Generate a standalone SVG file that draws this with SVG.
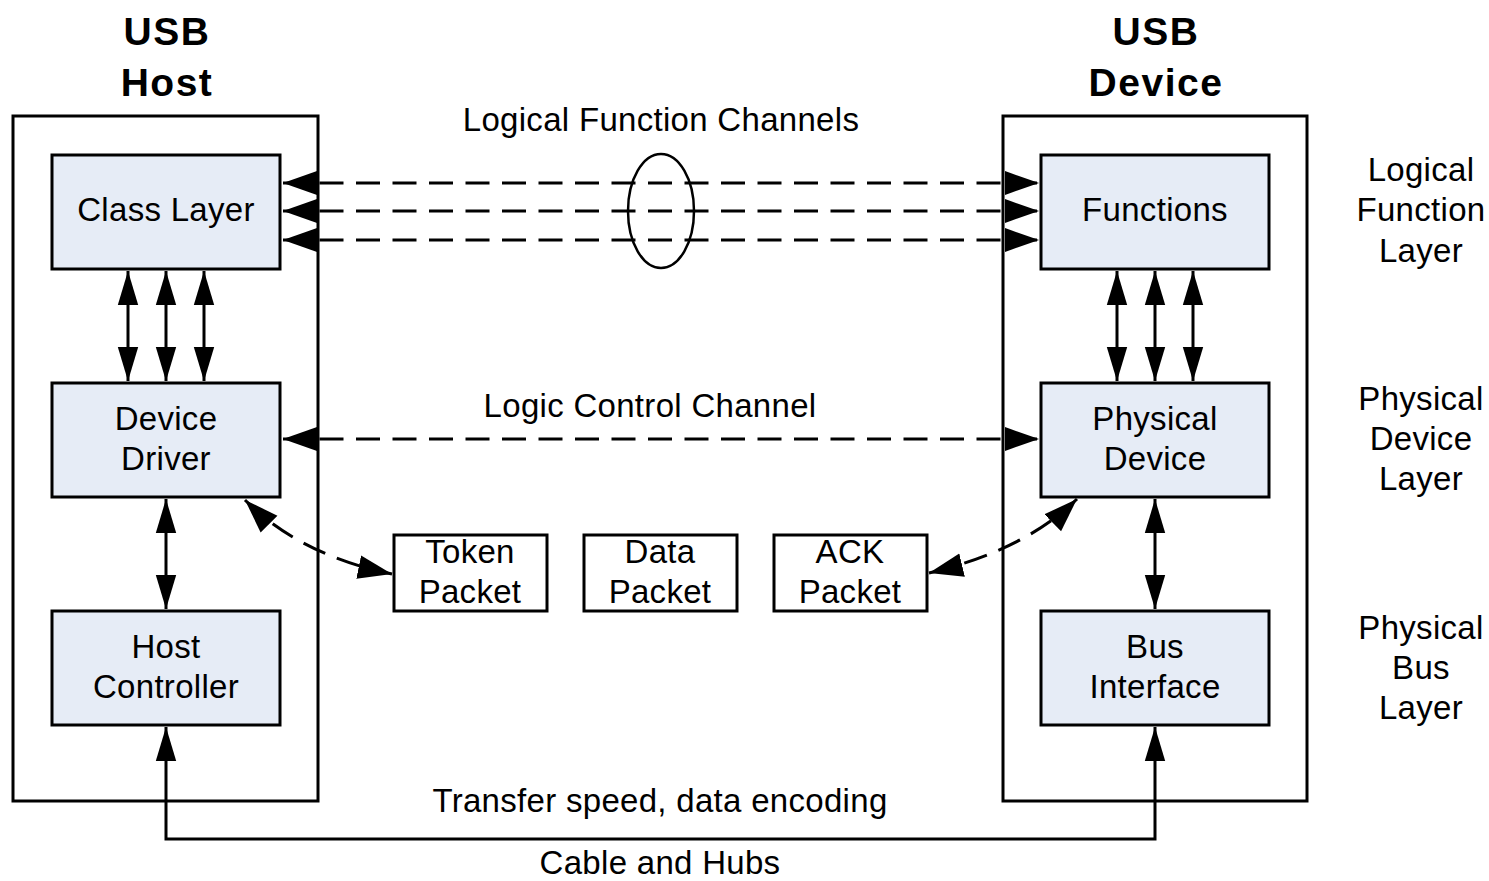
<svg xmlns="http://www.w3.org/2000/svg" width="1489" height="881" viewBox="0 0 1489 881">
<defs>
<marker id="ahb" viewBox="0 0 10 10" refX="10" refY="5" markerWidth="34" markerHeight="34" markerUnits="userSpaceOnUse" orient="auto-start-reverse">
<path d="M0,1.5 L10,5 L0,8.5 z" fill="#000"/>
</marker>
<marker id="ahv" viewBox="0 0 10 10" refX="10" refY="5" markerWidth="34" markerHeight="34" markerUnits="userSpaceOnUse" orient="auto-start-reverse">
<path d="M0,2 L10,5 L0,8 z" fill="#000"/>
</marker>
</defs>
<style>
.outer{fill:none;stroke:#000;stroke-width:3}
.box{fill:#e6ecf6;stroke:#000;stroke-width:3}
.pkt{fill:#fff;stroke:#000;stroke-width:3}
.t{font-family:"Liberation Sans",Arial,sans-serif;font-size:33px;letter-spacing:0.3px;fill:#000;text-anchor:middle}
.h{font-family:"Liberation Sans",Arial,sans-serif;font-size:39px;letter-spacing:1.5px;font-weight:bold;fill:#000;text-anchor:middle}
.ln{fill:none;stroke:#000;stroke-width:3}
.ds{fill:none;stroke:#000;stroke-width:3;stroke-dasharray:24 12.5}
</style>
<g id="host-title"><text class="h" x="167" y="45">USB</text><text class="h" x="167" y="96">Host</text></g>
<g id="device-title"><text class="h" x="1156" y="45">USB</text><text class="h" x="1156" y="96">Device</text></g>
<g id="host"><rect class="outer" x="13" y="116" width="305" height="685"/></g>
<g id="device"><rect class="outer" x="1003" y="116" width="304" height="685"/></g>
<g id="class-layer"><rect class="box" x="52" y="155" width="228" height="114"/><text class="t" x="166" y="221">Class Layer</text></g>
<g id="device-driver"><rect class="box" x="52" y="383" width="228" height="114"/><text class="t" x="166" y="430">Device</text><text class="t" x="166" y="470">Driver</text></g>
<g id="host-controller"><rect class="box" x="52" y="611" width="228" height="114"/><text class="t" x="166" y="658">Host</text><text class="t" x="166" y="698">Controller</text></g>
<g id="functions"><rect class="box" x="1041" y="155" width="228" height="114"/><text class="t" x="1155" y="221">Functions</text></g>
<g id="physical-device"><rect class="box" x="1041" y="383" width="228" height="114"/><text class="t" x="1155" y="430">Physical</text><text class="t" x="1155" y="470">Device</text></g>
<g id="bus-interface"><rect class="box" x="1041" y="611" width="228" height="114"/><text class="t" x="1155" y="658">Bus</text><text class="t" x="1155" y="698">Interface</text></g>
<g id="token-packet"><rect class="pkt" x="394" y="535" width="153" height="76"/><text class="t" x="470" y="563">Token</text><text class="t" x="470" y="603">Packet</text></g>
<g id="data-packet"><rect class="pkt" x="584" y="535" width="153" height="76"/><text class="t" x="660" y="563">Data</text><text class="t" x="660" y="603">Packet</text></g>
<g id="ack-packet"><rect class="pkt" x="774" y="535" width="153" height="76"/><text class="t" x="850" y="563">ACK</text><text class="t" x="850" y="603">Packet</text></g>
<g id="labels">
<text class="t" x="661" y="131">Logical Function Channels</text>
<text class="t" x="650" y="417">Logic Control Channel</text>
<text class="t" x="660" y="812">Transfer speed, data encoding</text>
<text class="t" x="660" y="874">Cable and Hubs</text>
<text class="t" x="1421" y="181">Logical</text>
<text class="t" x="1421" y="221">Function</text>
<text class="t" x="1421" y="262">Layer</text>
<text class="t" x="1421" y="410">Physical</text>
<text class="t" x="1421" y="450">Device</text>
<text class="t" x="1421" y="490">Layer</text>
<text class="t" x="1421" y="639">Physical</text>
<text class="t" x="1421" y="679">Bus</text>
<text class="t" x="1421" y="719">Layer</text>
</g>
<g id="connectors">
<line class="ds" x1="283" y1="183" x2="1039" y2="183" marker-start="url(#ahb)" marker-end="url(#ahb)"/>
<line class="ds" x1="283" y1="211" x2="1039" y2="211" marker-start="url(#ahb)" marker-end="url(#ahb)"/>
<line class="ds" x1="283" y1="240" x2="1039" y2="240" marker-start="url(#ahb)" marker-end="url(#ahb)"/>
<ellipse cx="661" cy="211" rx="33" ry="57" fill="none" stroke="#000" stroke-width="2.5"/>
<line class="ds" x1="283" y1="439" x2="1039" y2="439" marker-start="url(#ahb)" marker-end="url(#ahb)"/>
<line class="ln" x1="128" y1="271" x2="128" y2="381" marker-start="url(#ahv)" marker-end="url(#ahv)"/>
<line class="ln" x1="166" y1="271" x2="166" y2="381" marker-start="url(#ahv)" marker-end="url(#ahv)"/>
<line class="ln" x1="204" y1="271" x2="204" y2="381" marker-start="url(#ahv)" marker-end="url(#ahv)"/>
<line class="ln" x1="1117" y1="271" x2="1117" y2="381" marker-start="url(#ahv)" marker-end="url(#ahv)"/>
<line class="ln" x1="1155" y1="271" x2="1155" y2="381" marker-start="url(#ahv)" marker-end="url(#ahv)"/>
<line class="ln" x1="1193" y1="271" x2="1193" y2="381" marker-start="url(#ahv)" marker-end="url(#ahv)"/>
<line class="ln" x1="166" y1="499" x2="166" y2="609" marker-start="url(#ahv)" marker-end="url(#ahv)"/>
<line class="ln" x1="1155" y1="499" x2="1155" y2="609" marker-start="url(#ahv)" marker-end="url(#ahv)"/>
<path class="ln" d="M166,727 L166,839 L1155,839 L1155,727" marker-start="url(#ahv)" marker-end="url(#ahv)"/>
<path class="ds" d="M245,500 Q300,555 392,574" marker-start="url(#ahb)" marker-end="url(#ahb)"/>
<path class="ds" d="M929,573 Q1025,550 1077,499" marker-start="url(#ahb)" marker-end="url(#ahb)"/>
</g>
</svg>
